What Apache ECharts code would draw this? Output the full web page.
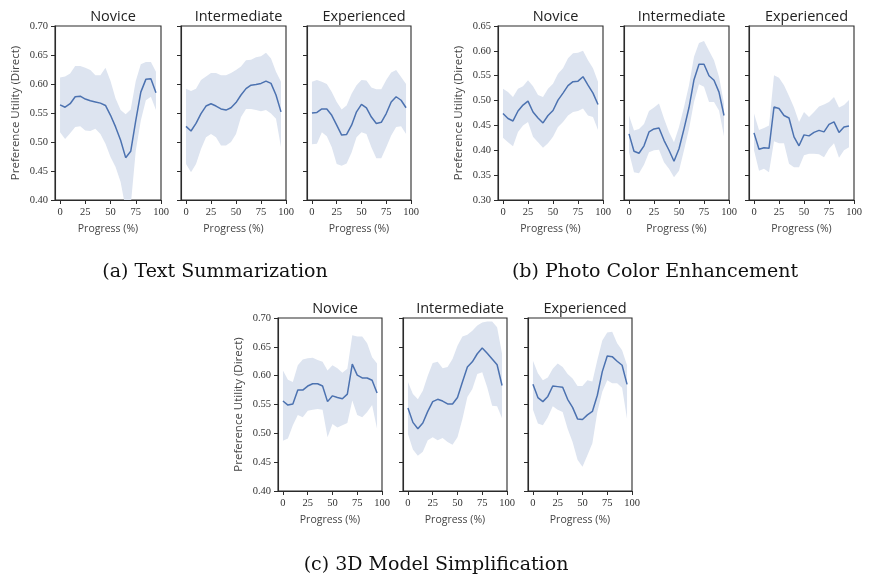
<!DOCTYPE html>
<html>
<head>
<meta charset="utf-8">
<script src="https://cdn.jsdelivr.net/npm/echarts@6/dist/echarts.min.js"></script>
<style>html,body{margin:0;padding:0;background:#fff;}#c{width:870px;height:579px;}</style>
</head>
<body>
<div id="c"></div>
<script>
// ---------- data ----------
const progress = [0,5,10,15,20,25,30,35,40,45,50,55,60,65,70,75,80,85,90,95];
const xTickValues = [0,25,50,75,100];
const yTicksTop = [0.40,0.45,0.50,0.55,0.60,0.65,0.70];
const yTicksPhoto = [0.30,0.35,0.40,0.45,0.50,0.55,0.60,0.65];
const panelTitles = ['Novice','Intermediate','Experienced'];
const captions = ['(a) Text Summarization','(b) Photo Color Enhancement','(c) 3D Model Simplification'];

// (a) Text Summarization
const textNovMean  = [0.564,0.560,0.566,0.578,0.579,0.574,0.571,0.569,0.567,0.563,0.546,0.526,0.503,0.473,0.484,0.537,0.586,0.608,0.609,0.585];
const textNovUpper = [0.611,0.613,0.618,0.631,0.631,0.628,0.624,0.615,0.615,0.628,0.605,0.575,0.555,0.548,0.556,0.605,0.634,0.638,0.638,0.621];
const textNovLower = [0.517,0.505,0.515,0.526,0.527,0.520,0.519,0.523,0.514,0.497,0.474,0.457,0.431,0.385,0.390,0.485,0.537,0.572,0.578,0.555];
const textIntMean  = [0.527,0.519,0.532,0.549,0.562,0.566,0.562,0.557,0.555,0.559,0.568,0.581,0.592,0.598,0.599,0.601,0.605,0.601,0.581,0.552];
const textIntUpper = [0.592,0.588,0.592,0.607,0.613,0.619,0.619,0.615,0.615,0.619,0.624,0.630,0.641,0.642,0.646,0.648,0.654,0.644,0.621,0.604];
const textIntLower = [0.462,0.448,0.462,0.488,0.508,0.514,0.508,0.494,0.494,0.500,0.514,0.543,0.557,0.557,0.555,0.553,0.555,0.549,0.540,0.491];
const textExpMean  = [0.550,0.551,0.557,0.557,0.546,0.529,0.512,0.513,0.529,0.552,0.565,0.559,0.543,0.532,0.534,0.549,0.569,0.578,0.572,0.559];
const textExpUpper = [0.604,0.607,0.604,0.600,0.586,0.569,0.556,0.563,0.583,0.598,0.607,0.606,0.594,0.591,0.591,0.607,0.620,0.624,0.612,0.600];
const textExpLower = [0.496,0.497,0.517,0.510,0.491,0.462,0.459,0.463,0.482,0.508,0.517,0.514,0.491,0.472,0.472,0.491,0.511,0.526,0.527,0.514];

// (b) Photo Color Enhancement
const photoNovMean  = [0.474,0.464,0.459,0.479,0.491,0.499,0.477,0.465,0.455,0.470,0.480,0.501,0.515,0.530,0.538,0.539,0.548,0.531,0.515,0.492];
const photoNovUpper = [0.524,0.517,0.507,0.524,0.529,0.541,0.529,0.511,0.507,0.524,0.534,0.554,0.565,0.585,0.595,0.596,0.600,0.581,0.565,0.538];
const photoNovLower = [0.425,0.416,0.408,0.437,0.450,0.457,0.427,0.416,0.405,0.414,0.427,0.447,0.457,0.470,0.477,0.479,0.484,0.470,0.467,0.441];
const photoIntMean  = [0.433,0.398,0.394,0.409,0.437,0.443,0.445,0.420,0.400,0.378,0.403,0.443,0.486,0.542,0.573,0.573,0.550,0.541,0.517,0.470];
const photoIntUpper = [0.470,0.440,0.443,0.453,0.479,0.486,0.494,0.464,0.437,0.416,0.447,0.487,0.531,0.588,0.616,0.620,0.600,0.581,0.548,0.494];
const photoIntLower = [0.396,0.356,0.354,0.371,0.396,0.400,0.401,0.376,0.363,0.346,0.359,0.400,0.443,0.497,0.533,0.528,0.497,0.497,0.480,0.428];
const photoExpMean  = [0.435,0.402,0.405,0.404,0.487,0.484,0.470,0.465,0.427,0.409,0.431,0.429,0.436,0.440,0.437,0.452,0.457,0.436,0.447,0.449];
const photoExpUpper = [0.474,0.441,0.445,0.450,0.551,0.546,0.531,0.509,0.486,0.457,0.477,0.467,0.477,0.488,0.492,0.497,0.507,0.486,0.491,0.501];
const photoExpLower = [0.400,0.359,0.363,0.356,0.418,0.414,0.414,0.373,0.366,0.366,0.390,0.393,0.393,0.392,0.386,0.403,0.414,0.385,0.400,0.406];

// (c) 3D Model Simplification
const modelNovMean  = [0.556,0.549,0.551,0.575,0.575,0.582,0.586,0.586,0.582,0.555,0.565,0.562,0.560,0.568,0.620,0.601,0.596,0.596,0.592,0.570];
const modelNovUpper = [0.609,0.593,0.589,0.618,0.628,0.630,0.631,0.627,0.624,0.609,0.618,0.613,0.605,0.612,0.670,0.668,0.668,0.656,0.632,0.621];
const modelNovLower = [0.487,0.491,0.514,0.532,0.528,0.539,0.541,0.542,0.541,0.493,0.516,0.510,0.514,0.518,0.557,0.532,0.528,0.537,0.549,0.508];
const modelIntMean  = [0.544,0.519,0.508,0.518,0.538,0.555,0.559,0.556,0.551,0.551,0.562,0.589,0.615,0.624,0.638,0.648,0.639,0.629,0.619,0.583];
const modelIntUpper = [0.589,0.568,0.559,0.574,0.600,0.622,0.624,0.613,0.615,0.629,0.652,0.668,0.671,0.678,0.687,0.692,0.694,0.694,0.684,0.638];
const modelIntLower = [0.499,0.472,0.461,0.468,0.488,0.493,0.488,0.492,0.485,0.480,0.493,0.525,0.563,0.577,0.603,0.606,0.580,0.548,0.547,0.526];
const modelExpMean  = [0.585,0.562,0.555,0.564,0.582,0.581,0.580,0.559,0.545,0.525,0.524,0.532,0.538,0.566,0.607,0.634,0.633,0.625,0.618,0.585];
const modelExpUpper = [0.626,0.604,0.592,0.597,0.612,0.621,0.615,0.603,0.595,0.582,0.582,0.592,0.590,0.627,0.661,0.675,0.676,0.656,0.644,0.618];
const modelExpLower = [0.541,0.517,0.514,0.528,0.547,0.541,0.537,0.508,0.485,0.454,0.442,0.462,0.483,0.537,0.572,0.592,0.587,0.587,0.579,0.525];

// ---------- layout ----------
const panels = [
  {rect:[55,26,106,174],  yt:yTicksTop,   d:[textNovMean,textNovUpper,textNovLower], first:true, t:0},
  {rect:[181,26,105,174], yt:yTicksTop,   d:[textIntMean,textIntUpper,textIntLower], t:1},
  {rect:[307,26,104,174], yt:yTicksTop,   d:[textExpMean,textExpUpper,textExpLower], t:2},
  {rect:[498,26,105,174], yt:yTicksPhoto, d:[photoNovMean,photoNovUpper,photoNovLower], first:true, t:0},
  {rect:[624,26,105,174], yt:yTicksPhoto, d:[photoIntMean,photoIntUpper,photoIntLower], t:1},
  {rect:[749,26,105,174], yt:yTicksPhoto, d:[photoExpMean,photoExpUpper,photoExpLower], t:2},
  {rect:[278,318,104,173],yt:yTicksTop,   d:[modelNovMean,modelNovUpper,modelNovLower], first:true, t:0},
  {rect:[403,318,104,173],yt:yTicksTop,   d:[modelIntMean,modelIntUpper,modelIntLower], t:1},
  {rect:[528,318,104,173],yt:yTicksTop,   d:[modelExpMean,modelExpUpper,modelExpLower], t:2}
];
const captionPos = [[215,272],[655,272],[436,565]];

const LINE = '#4c72b0', BAND = '#dde4f0', AX = '#2b2b2b';
const SANS = '"Open Sans", sans-serif', SERIF = '"Liberation Serif", serif';

const grid = [], xAxis = [], yAxis = [], series = [], title = [], graphic = [];
panels.forEach((p, i) => {
  const [l, t, w, h] = p.rect;
  grid.push({left:l, top:t, width:w, height:h, show:true, borderColor:AX, borderWidth:1.1, backgroundColor:'transparent'});
  xAxis.push({
    gridIndex:i, type:'value', min:-5, max:100,
    axisLine:{show:true, onZero:false, lineStyle:{color:AX, width:1.1}},
    axisTick:{show:true, inside:false, length:4, customValues:xTickValues, lineStyle:{color:AX}},
    axisLabel:{show:true, customValues:xTickValues, margin:7, color:'#333', fontFamily:SERIF, fontSize:10.5},
    splitLine:{show:false},
    name:'Progress (%)', nameLocation:'middle', nameGap:24,
    nameTextStyle:{fontFamily:SANS, fontSize:10.5, color:'#444'}
  });
  const ymin = p.yt[0], ymax = p.yt[p.yt.length-1];
  yAxis.push({
    gridIndex:i, type:'value', min:ymin, max:ymax,
    axisLine:{show:true, onZero:false, lineStyle:{color:AX, width:1.1}},
    axisTick:{show:true, inside:false, length:4, customValues:p.yt, lineStyle:{color:AX}},
    axisLabel:{show:!!p.first, customValues:p.yt, margin:7, color:'#333', fontFamily:SERIF, fontSize:10.5,
               formatter:v => v.toFixed(2)},
    splitLine:{show:false},
    name: p.first ? 'Preference Utility (Direct)' : '', nameLocation:'middle', nameGap:33,
    nameTextStyle:{fontFamily:SANS, fontSize:11.5, color:'#444'}
  });
  const [mean, upper, lower] = p.d;
  // confidence band drawn as one polygon through the axis scales
  series.push({
    type:'custom', xAxisIndex:i, yAxisIndex:i, silent:true, z:1,
    data: progress.map((x,k)=>[x, lower[k], upper[k]]),
    encode:{x:0, y:[1,2]},
    renderItem:(params, api) => {
      if (params.dataIndex !== 0) return;
      const pts = [];
      for (let k = 0; k < progress.length; k++) pts.push(api.coord([progress[k], upper[k]]));
      for (let k = progress.length - 1; k >= 0; k--) pts.push(api.coord([progress[k], lower[k]]));
      const cs = params.coordSys;
      return {
        type:'polygon', shape:{points:pts}, style:{fill:BAND},
        clipPath:{type:'rect', shape:{x:cs.x, y:cs.y, width:cs.width, height:cs.height}}
      };
    }
  });
  series.push({
    type:'line', xAxisIndex:i, yAxisIndex:i, symbol:'none', z:3,
    lineStyle:{color:LINE, width:1.5}, data: progress.map((x,k)=>[x, mean[k]])
  });
  title.push({
    text: panelTitles[p.t], left: l + w/2, top: t - 22, textAlign:'center',
    textStyle:{fontFamily:SANS, fontSize:14.5, fontWeight:'normal', color:'#222'}
  });
});
captions.forEach((c, i) => {
  graphic.push({type:'text', x:captionPos[i][0], y:captionPos[i][1],
    style:{text:c, textAlign:'center', textVerticalAlign:'middle', font:'19px "DejaVu Serif", serif', fill:'#111'}});
});

const chart = echarts.init(document.getElementById('c'), null, {renderer:'canvas'});
chart.setOption({animation:false, backgroundColor:'#fff', grid, xAxis, yAxis, series, title, graphic});
</script>
</body>
</html>
